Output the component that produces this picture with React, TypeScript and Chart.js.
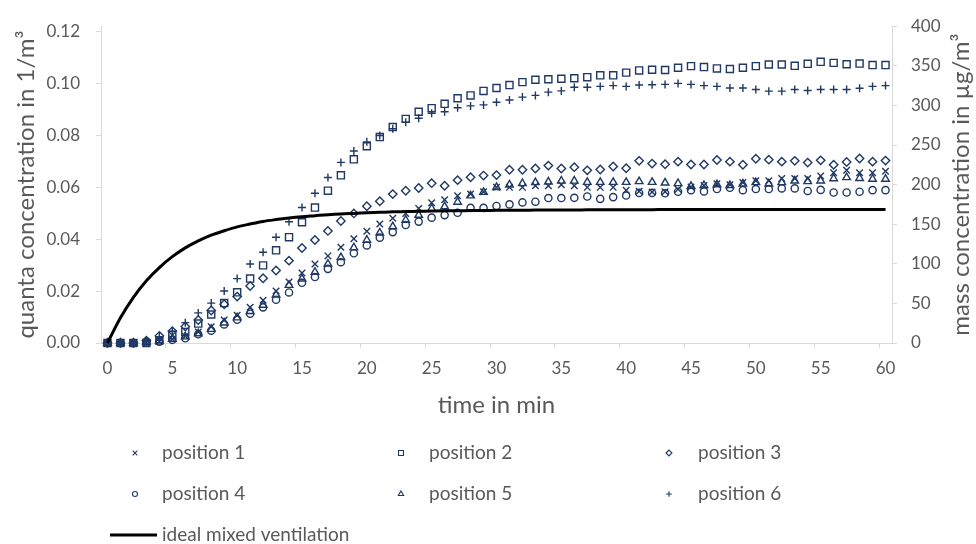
import React, { useEffect, useRef } from 'react';
import { Chart, registerables } from 'chart.js';
import { drawPoint } from 'chart.js/helpers';

Chart.register(...registerables);

// time axis (minutes)
const minutes = [
  0, 1, 2, 3, 4, 5, 6, 7, 8, 9, 10, 11, 12, 13, 14, 15, 16, 17, 18, 19, 20,
  21, 22, 23, 24, 25, 26, 27, 28, 29, 30, 31, 32, 33, 34, 35, 36, 37, 38, 39, 40,
  41, 42, 43, 44, 45, 46, 47, 48, 49, 50, 51, 52, 53, 54, 55, 56, 57, 58, 59, 60,
];

// measured mass concentration in µg/m³ (right axis)
const position1 = [
  0, 0, 0, 0.5, 2, 5, 8.6, 14, 20.5, 29, 35, 45, 54, 65.7, 77, 88.5, 99.8, 110, 121, 131.5, 141,
  150.4, 157.4, 163.6, 169.8, 177, 181, 186, 188, 191, 196.5, 196.5, 196.5, 198.5, 198.5, 199.8, 198.5, 196.5, 196.5, 196.5, 193,
  191.6, 190.7, 191, 194, 197, 199, 201, 199.8, 202.7, 204.8, 204.8, 207.7, 207.7, 207.7, 211, 215, 218, 215, 215, 217,
];
const position2 = [
  0, 0, 0, 0, 3, 10, 14, 24.5, 36, 50.4, 64, 81.3, 98, 117, 133.6, 152.5, 171, 192.3, 211.7, 231.9, 248.4,
  260, 272.6, 283, 292, 296.5, 302, 309, 312.6, 318.3, 322, 325.7, 329.4, 332.4, 333, 333.6, 334.3, 335.6, 338, 338, 341.4,
  344.2, 345, 344.7, 347.5, 349.6, 348.4, 346.7, 346, 347.5, 349.6, 351.6, 351.6, 350, 352.5, 355, 353.7, 352, 352.8, 350.9, 350.9,
];
const position3 = [
  0, 0, 0, 3, 9, 15, 20.7, 29, 41, 49, 58.6, 72, 81.7, 91.6, 104, 120, 130, 141.5, 154, 163.6, 172.6,
  179, 188, 192.3, 195.7, 201.8, 198.5, 205.6, 209.3, 211.4, 212, 218.8, 218.8, 220.4, 224, 220.4, 222, 218, 219, 222.8, 220.7,
  230, 226.5, 225.7, 229, 225.3, 225.3, 231, 229, 225, 232.7, 231.5, 229, 230, 227.8, 230.6, 225, 228.6, 233, 229, 230.3,
];
const position4 = [
  0, 0, 0, 0.5, 1.5, 4, 6, 11, 15.5, 23.5, 29.5, 37, 45, 54.6, 63.8, 76, 83.3, 93.6, 102, 113.3, 123.2,
  133, 140, 149, 153.3, 158.3, 161.5, 164.4, 170.6, 170.6, 173, 175, 177.5, 178.4, 183, 183, 183.3, 185, 182, 184.2, 186.2,
  189.5, 189.5, 189, 191, 193, 191.4, 194.4, 196, 193, 194.4, 194.4, 195.2, 195.2, 192, 193.3, 190, 190, 191, 193, 193,
];
const position5 = [
  0, 0, 0, 1, 3, 5, 8, 12, 17.5, 25.5, 32, 40, 48, 60.7, 73, 81, 89.5, 99.8, 108, 120.4, 130,
  139, 147, 155.3, 161.5, 169.8, 172.2, 178, 186, 190.4, 196.5, 199.8, 201.5, 202.7, 203.5, 204.7, 204.7, 203, 203, 203, 203,
  204, 203, 202.2, 201.5, 198, 199, 200, 199, 201, 202.7, 201, 202.7, 204.8, 204, 204.8, 207.7, 209, 208, 207, 207,
];
const position6 = [
  0, 0, 0, 2, 8, 15, 25.7, 38, 50.4, 65.7, 81.3, 99.8, 114.5, 133.6, 153, 171, 189, 209, 228, 242.5, 254,
  262, 270.6, 278.8, 283.7, 290, 292, 297, 299.4, 300.6, 304, 306.8, 310.5, 312.6, 316.7, 318.3, 323, 323, 324, 325, 324,
  325.7, 326, 326.5, 327.8, 326.5, 325, 324, 322, 322, 320, 318, 318, 320, 318.8, 320, 320, 320, 321.6, 324, 325,
];

// quanta concentration in 1/m³ for ideal mixed ventilation (left axis)
const idealMixed = [
  0, 0.0097, 0.0176, 0.024, 0.0291, 0.0333, 0.0367, 0.0394, 0.0416, 0.0433, 0.0448,
  0.0459, 0.0469, 0.0476, 0.0482, 0.0487, 0.0491, 0.0495, 0.0498, 0.05, 0.0502,
  0.0504, 0.0506, 0.0507, 0.0508, 0.0509, 0.051, 0.051, 0.0511, 0.0511, 0.0512,
  0.0512, 0.0512, 0.0513, 0.0513, 0.0513, 0.0513, 0.0514, 0.0514, 0.0514, 0.0514,
  0.0514, 0.0514, 0.0515, 0.0515, 0.0515, 0.0515, 0.0515, 0.0515, 0.0515, 0.0515,
  0.0515, 0.0515, 0.0515, 0.0515, 0.0515, 0.0515, 0.0515, 0.0515, 0.0515, 0.0515,
];

const seriesNames = ['position 1', 'position 2', 'position 3', 'position 4', 'position 5', 'position 6'];
const lineName = 'ideal mixed ventilation';
const xTitle = 'time in min';
const leftTitle = 'quanta concentration in 1/m³';
const rightTitle = 'mass concentration in µg/m³';

const FONT = 'Lato, "Open Sans", sans-serif';
const TEXT = '#595959';
const AXIS = '#d9d9d9';
const NAVY = '#1f3864';

type MarkerStyle = { pointStyle: string; radius: number };
const markers: MarkerStyle[] = [
  { pointStyle: 'crossRot', radius: 4.6 },
  { pointStyle: 'rect', radius: 5 },
  { pointStyle: 'rectRot', radius: 4.2 },
  { pointStyle: 'circle', radius: 3.6 },
  { pointStyle: 'triangle', radius: 4.4 },
  { pointStyle: 'cross', radius: 4 },
];

// axis titles and the three-column legend under the plot
const decorations = {
  id: 'decorations',
  afterDraw(chart: any) {
    const { ctx, chartArea } = chart;
    ctx.save();
    ctx.fillStyle = TEXT;
    ctx.textBaseline = 'middle';
    ctx.textAlign = 'center';
    ctx.font = `24px ${FONT}`;
    ctx.fillText(xTitle, (chartArea.left + chartArea.right) / 2, 405);

    const midY = (chartArea.top + chartArea.bottom) / 2;
    ctx.save();
    ctx.translate(26, midY);
    ctx.rotate(-Math.PI / 2);
    ctx.fillText(leftTitle, 0, 0);
    ctx.restore();

    ctx.save();
    ctx.translate(961, midY);
    ctx.rotate(-Math.PI / 2);
    ctx.fillText(rightTitle, 0, 0);
    ctx.restore();

    // legend
    const colMarker = [135, 401, 669];
    const colText = [162, 429, 698];
    const rowY = [453, 494];
    ctx.font = `19px ${FONT}`;
    ctx.textAlign = 'left';
    seriesNames.forEach((name, i) => {
      const col = i % 3;
      const row = Math.floor(i / 3);
      const m = markers[i];
      ctx.save();
      ctx.strokeStyle = NAVY;
      ctx.fillStyle = 'rgba(0,0,0,0)';
      ctx.lineWidth = 1.1;
      drawPoint(ctx, { pointStyle: m.pointStyle as any, radius: m.radius * 0.7, rotation: 0, borderWidth: 1.1 }, colMarker[col], rowY[row]);
      ctx.restore();
      ctx.fillStyle = TEXT;
      ctx.fillText(name, colText[col], rowY[row]);
    });
    ctx.strokeStyle = '#000000';
    ctx.lineWidth = 3;
    ctx.beginPath();
    ctx.moveTo(110, 535);
    ctx.lineTo(157, 535);
    ctx.stroke();
    ctx.fillStyle = TEXT;
    ctx.fillText(lineName, colText[0], 535);
    ctx.restore();
  },
};

export default function App() {
  const canvasRef = useRef<HTMLCanvasElement | null>(null);

  useEffect(() => {
    document.body.style.margin = '0';
    const canvas = canvasRef.current;
    if (!canvas) return;

    const positions = [position1, position2, position3, position4, position5, position6];
    const markerSets = positions.map((values, i) => ({
      type: 'line' as const,
      label: seriesNames[i],
      data: values,
      yAxisID: 'yMass',
      showLine: false,
      pointStyle: markers[i].pointStyle as any,
      pointRadius: markers[i].radius,
      pointBorderWidth: 1.4,
      pointBorderColor: NAVY,
      pointBackgroundColor: 'rgba(0,0,0,0)',
      borderColor: NAVY,
      backgroundColor: 'rgba(0,0,0,0)',
      clip: false as any,
      order: 1,
    }));

    const chart = new Chart(canvas, {
      type: 'line',
      data: {
        labels: minutes.map(String),
        datasets: [
          {
            label: lineName,
            data: idealMixed,
            yAxisID: 'yQuanta',
            borderColor: '#000000',
            borderWidth: 3,
            pointRadius: 0,
            cubicInterpolationMode: 'monotone',
            fill: false,
            clip: false as any,
            order: 0,
          },
          ...markerSets,
        ],
      },
      options: {
        responsive: false,
        animation: false,
        devicePixelRatio: 1,
        layout: { padding: { top: 18, left: 0, right: 0, bottom: 0 } },
        plugins: {
          legend: { display: false },
          tooltip: { enabled: false },
          title: { display: false },
        },
        scales: {
          x: {
            type: 'category',
            offset: true,
            afterFit: (s: any) => { s.height = 201; },
            grid: {
              offset: true,
              drawOnChartArea: false,
              drawTicks: true,
              tickLength: 5,
              color: (c: any) => (c.index !== undefined && c.index > 0 && c.index % 5 === 0 ? AXIS : 'rgba(0,0,0,0)'),
            },
            border: { display: true, color: AXIS, width: 1 },
            ticks: {
              autoSkip: false,
              maxRotation: 0,
              minRotation: 0,
              padding: 10,
              color: TEXT,
              font: { family: FONT, size: 17 },
              callback: (_v: any, idx: number) => (minutes[idx] % 5 === 0 ? String(minutes[idx]) : ''),
            },
          },
          yQuanta: {
            type: 'linear',
            position: 'left',
            min: 0,
            max: 0.1222,
            afterFit: (s: any) => { s.width = 101; },
            grid: { drawOnChartArea: false, drawTicks: true, tickLength: 5, color: AXIS },
            border: { display: true, color: AXIS, width: 1 },
            ticks: {
              stepSize: 0.02,
              includeBounds: false,
              padding: 16,
              color: TEXT,
              font: { family: FONT, size: 17 },
              callback: (v: any) => Number(v).toFixed(2),
            },
          },
          yMass: {
            type: 'linear',
            position: 'right',
            min: 0,
            max: 400,
            afterFit: (s: any) => { s.width = 84; },
            grid: { drawOnChartArea: false, drawTicks: true, tickLength: 5, color: AXIS },
            border: { display: true, color: AXIS, width: 1 },
            ticks: {
              stepSize: 50,
              padding: 14,
              color: TEXT,
              font: { family: FONT, size: 17 },
            },
          },
        },
      },
      plugins: [decorations],
    } as any);

    return () => chart.destroy();
  }, []);

  return (
    <div style={{ width: 976, height: 544, position: 'relative', background: '#ffffff' }}>
      <canvas ref={canvasRef} width={976} height={544} />
    </div>
  );
}
